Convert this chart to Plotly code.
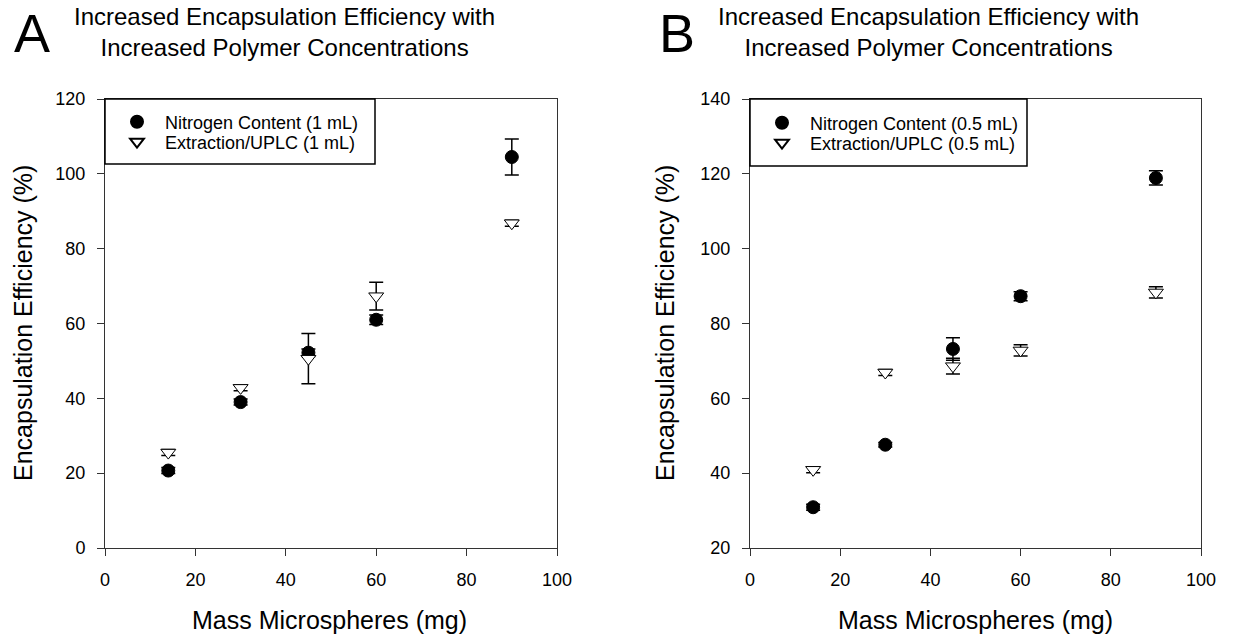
import plotly.graph_objects as go

# ---- data ----
mass_mg = [14, 30, 45, 60, 90]

a_nitrogen = [20.7, 39.0, 52.2, 61.0, 104.5]
a_nitrogen_err = [0.8, 0.8, 1.0, 1.3, 4.8]
a_uplc = [25.5, 42.8, 50.6, 67.3, 86.8]
a_uplc_err = [0.8, 0.8, 6.7, 3.7, 0.8]

b_nitrogen = [30.9, 47.6, 73.2, 87.3, 118.9]
b_nitrogen_err = [0.8, 0.6, 3.0, 1.2, 1.9]
b_uplc = [40.9, 66.9, 68.6, 72.8, 88.3]
b_uplc_err = [0.8, 0.8, 2.1, 1.5, 1.5]

series_names = ["Nitrogen Content (1 mL)", "Extraction/UPLC (1 mL)",
                "Nitrogen Content (0.5 mL)", "Extraction/UPLC (0.5 mL)"]
title_lines = ["Increased Encapsulation Efficiency with",
               "Increased Polymer Concentrations"]
x_title = "Mass Microspheres (mg)"
y_title = "Encapsulation Efficiency (%)"

W, H = 1252, 638
FONT = "Liberation Sans, Arial, sans-serif"


def px(x):
    return x / W


def py(y):
    return 1 - y / H


fig = go.Figure()


def add_series(x, y, err, name, xa, ya, legend, filled):
    fig.add_trace(go.Scatter(
        x=x, y=y, mode="markers", name=name,
        xaxis=xa, yaxis=ya, legend=legend,
        error_y=dict(type="data", array=err, visible=True,
                     color="black", thickness=1.5, width=7),
        marker=dict(
            symbol="circle" if filled else "triangle-down",
            size=13,
            color="black" if filled else "white",
            line=dict(color="black", width=1),
        ),
    ))


add_series(mass_mg, a_nitrogen, a_nitrogen_err, series_names[0], "x", "y", "legend", True)
add_series(mass_mg, a_uplc, a_uplc_err, series_names[1], "x", "y", "legend2", False)
add_series(mass_mg, b_nitrogen, b_nitrogen_err, series_names[2], "x2", "y2", "legend3", True)
add_series(mass_mg, b_uplc, b_uplc_err, series_names[3], "x2", "y2", "legend4", False)

axis_common = dict(
    showline=True, linecolor="#333333", linewidth=1, mirror=True,
    ticks="outside", ticklen=7, tickwidth=1, tickcolor="#333333",
    showgrid=False, zeroline=False, automargin=False,
    tickfont=dict(family=FONT, size=18, color="black"),
    ticklabelstandoff=8,
)


def legend_at(x, y):
    return dict(x=px(x), y=py(y), xanchor="left", yanchor="middle",
                bgcolor="rgba(0,0,0,0)", borderwidth=0,
                font=dict(family=FONT, size=18, color="black"),
                itemsizing="constant", itemwidth=46)


# plot areas (pixels): A x 105-557, B x 750-1201, y 99-548
fig.update_layout(
    template="none",
    width=W, height=H,
    margin=dict(l=0, r=0, t=0, b=0, pad=0, autoexpand=False),
    paper_bgcolor="white", plot_bgcolor="white",
    font=dict(family=FONT, color="black"),
    xaxis=dict(domain=[px(105), px(557)], range=[0, 100], dtick=20, anchor="y", **axis_common),
    yaxis=dict(domain=[py(548), py(99)], range=[0, 120], dtick=20, anchor="x", **axis_common),
    xaxis2=dict(domain=[px(750), px(1201)], range=[0, 100], dtick=20, anchor="y2", **axis_common),
    yaxis2=dict(domain=[py(548), py(99)], range=[20, 140], dtick=20, anchor="x2", **axis_common),
    legend=legend_at(109, 122),
    legend2=legend_at(109, 142),
    legend3=legend_at(754, 123),
    legend4=legend_at(754, 143),
    showlegend=True,
)

# legend boxes
fig.add_shape(type="rect", xref="paper", yref="paper",
              x0=px(105), x1=px(375), y0=py(164), y1=py(99),
              line=dict(color="black", width=1.5), fillcolor="rgba(0,0,0,0)")
fig.add_shape(type="rect", xref="paper", yref="paper",
              x0=px(750), x1=px(1027), y0=py(166), y1=py(99),
              line=dict(color="black", width=1.5), fillcolor="rgba(0,0,0,0)")


def ann(text, x, y, size, angle=0, xanchor="center"):
    fig.add_annotation(text=text, x=px(x), y=py(y), xref="paper", yref="paper",
                       showarrow=False, xanchor=xanchor, yanchor="middle",
                       textangle=angle,
                       font=dict(family=FONT, size=size, color="black"))


# panel letters and titles
ann("A", 32, 33, 54)
ann("B", 677, 33, 54)
for cx in (284, 929):
    ann("<br>".join(title_lines), cx, 32, 24)

# axis titles
ann(x_title, 329, 620, 25)
ann(x_title, 975, 620, 25)
ann(y_title, 23, 323, 25, angle=-90)
ann(y_title, 665, 323, 25, angle=-90)

fig.write_html("out.html")
